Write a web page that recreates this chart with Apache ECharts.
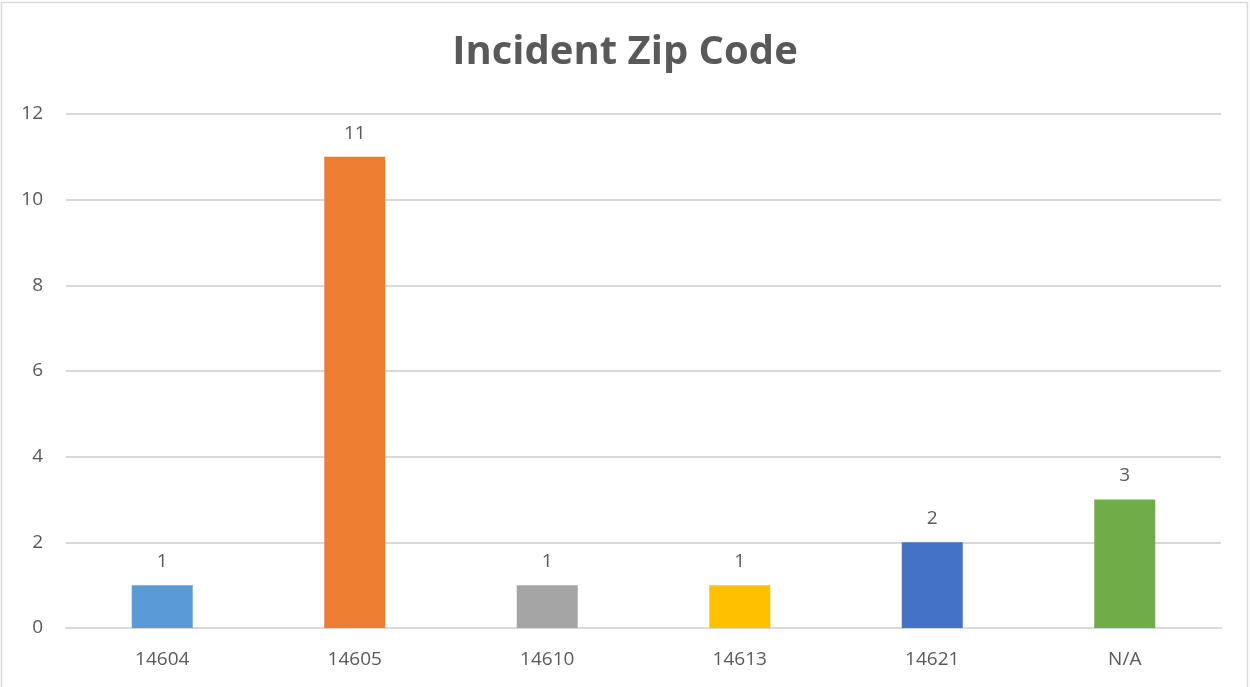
<!DOCTYPE html>
<html lang="en">
<head>
    <meta charset="UTF-8">
    <title>Incident Zip Code</title>
    <style>
        html, body { margin: 0; padding: 0; background: #fff; }
        #main { width: 1250px; height: 687px; }
    </style>
</head>
<body>
<div id="main"></div>
<script src="https://cdn.jsdelivr.net/npm/echarts@6/dist/echarts.min.js"></script>
<script>
    const myChart = echarts.init(document.getElementById('main'));

    // data
    const categories = ['14604', '14605', '14610', '14613', '14621', 'N/A'];
    const counts = [1, 11, 1, 1, 2, 3];
    const barColors = ['#5B9BD5', '#ED7D31', '#A5A5A5', '#FFC000', '#4472C4', '#70AD47'];
    const yTicks = [0, 2, 4, 6, 8, 10, 12];

    const textColor = '#595959';
    const font = 'Open Sans, Liberation Sans, sans-serif';

    const option = {
        backgroundColor: '#fff',
        animation: false,
        title: {
            text: 'Incident Zip Code',
            left: 'center',
            top: 28,
            textStyle: { color: textColor, fontSize: 40, fontWeight: 'bold', fontFamily: font }
        },
        // outer chart border
        graphic: [{
            type: 'rect',
            shape: { x: 1.5, y: 2.5, width: 1246, height: 690 },
            style: { fill: 'none', stroke: '#D9D9D9', lineWidth: 1.5 },
            silent: true
        }],
        grid: { left: 66, right: 29, top: 114, bottom: 59 },
        xAxis: {
            type: 'category',
            data: categories,
            axisLine: { lineStyle: { color: '#D9D9D9', width: 2 } },
            axisTick: { show: false },
            axisLabel: { color: textColor, fontSize: 19, fontFamily: font, margin: 22 }
        },
        yAxis: {
            type: 'value',
            min: yTicks[0],
            max: yTicks[yTicks.length - 1],
            interval: 2,
            axisLine: { show: false },
            axisTick: { show: false },
            splitLine: { lineStyle: { color: '#D9D9D9', width: 2 } },
            axisLabel: { color: textColor, fontSize: 19, fontFamily: font, margin: 23 }
        },
        series: [{
            type: 'bar',
            barWidth: 61,
            data: counts.map((v, i) => ({ value: v, itemStyle: { color: barColors[i] } })),
            label: {
                show: true,
                position: 'top',
                distance: 14,
                color: textColor,
                fontSize: 19,
                fontFamily: font
            }
        }]
    };

    myChart.setOption(option);
</script>
</body>
</html>
